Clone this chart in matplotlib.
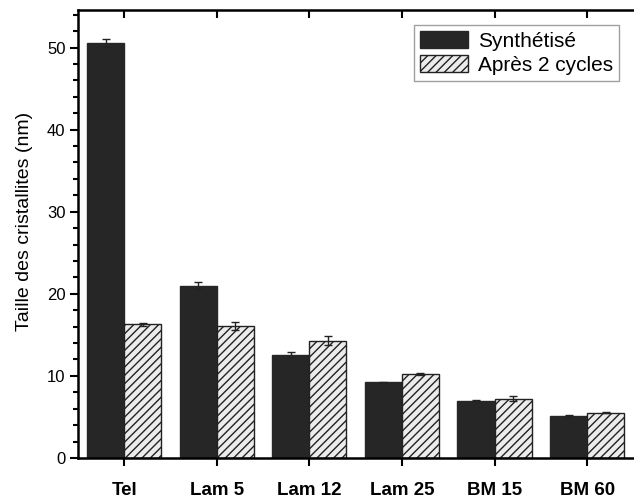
import numpy as np
import matplotlib.pyplot as plt
from matplotlib.ticker import MultipleLocator

plt.rcParams['font.family'] = ['Liberation Sans', 'DejaVu Sans']
plt.rcParams['hatch.linewidth'] = 1.0

# crystallite sizes (nm) per sample
samples = ['Tel', 'Lam 5', 'Lam 12', 'Lam 25', 'BM 15', 'BM 60']
synth = [50.6, 21.0, 12.6, 9.2, 7.0, 5.1]
synth_err = [0.5, 0.4, 0.3, 0.1, 0.05, 0.1]
cycled = [16.3, 16.1, 14.3, 10.2, 7.2, 5.5]
cycled_err = [0.2, 0.5, 0.5, 0.1, 0.3, 0.05]

fig = plt.figure(figsize=(6.34, 5.03), dpi=100)
ax = fig.add_axes([0.123, 0.0895, 0.876, 0.891])

x = np.arange(len(samples))
w = 0.4
ekw = dict(ecolor='#222222', elinewidth=1, capsize=3, capthick=1)
ax.bar(x - w / 2, synth, w, color='#262626', edgecolor='#262626',
       yerr=synth_err, error_kw=ekw, label='Synthétisé', zorder=2)
ax.bar(x + w / 2, cycled, w, color='#ececec', edgecolor='#222222', hatch='////', linewidth=1,
       yerr=cycled_err, error_kw=ekw, label='Après 2 cycles', zorder=2)

ax.set_xlim(-0.5, 5.5)
ax.set_ylim(0, 54.6)
ax.set_xticks(x)
ax.set_xticklabels(samples, fontweight='bold', fontsize=13.5)
ax.yaxis.set_major_locator(MultipleLocator(10))
ax.yaxis.set_minor_locator(MultipleLocator(2))
ax.tick_params(axis='y', which='major', direction='out', length=6, width=1.5, labelsize=12, pad=3)
ax.tick_params(axis='y', which='minor', direction='out', length=3.5, width=1.5)
ax.tick_params(axis='x', direction='out', length=6, width=1.5, pad=11)
ax.tick_params(axis='x', which='major', top=True)
for s in ax.spines.values():
    s.set_linewidth(1.8)
ax.spines['right'].set_visible(False)
ax.set_ylabel('Taille des cristallites (nm)', fontsize=14)
ax.yaxis.set_label_coords(-0.081, 0.527)

# top ticks point inward, bottom ones outward
for t in ax.xaxis.get_major_ticks():
    t.tick2line.set_marker(3)

ax.legend(loc='upper right', fontsize=15, frameon=True, fancybox=False, edgecolor='#888888',
          handlelength=2.3, handleheight=0.85, handletextpad=0.45, borderpad=0.3,
          labelspacing=0.22, borderaxespad=0, bbox_to_anchor=(0.974, 0.966))

fig.savefig('out.png', dpi=100)
